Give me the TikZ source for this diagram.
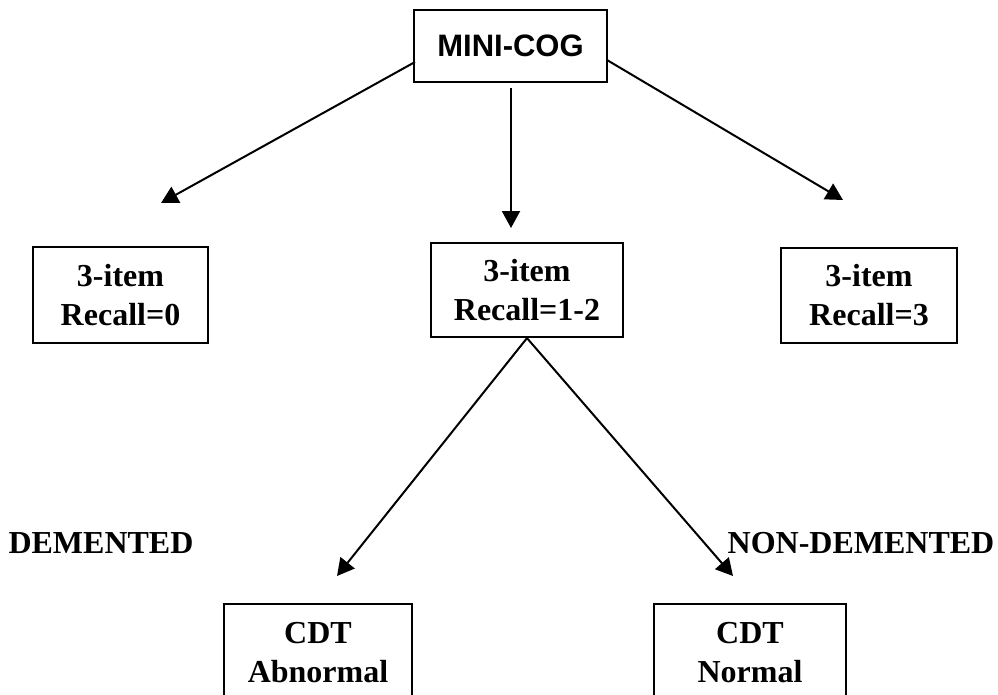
\documentclass[tikz,border=0pt]{standalone}
\usepackage{fontspec}
\setmainfont{Liberation Serif}
\newfontfamily\arialfont{Liberation Sans}
\usetikzlibrary{arrows.meta}
\tikzset{
  box/.style={draw, line width=2.2pt, rectangle, inner sep=0pt, align=center,
    font=\fontsize{32}{39}\selectfont\bfseries},
  arr/.style={line width=2pt, -{Triangle[length=17pt,width=18pt]}},
  lbl/.style={inner sep=0pt, font=\fontsize{32}{39}\selectfont\bfseries}
}
\begin{document}
\begin{tikzpicture}[x=1pt,y=-1pt]
\useasboundingbox (0,0) rectangle (998,694);
\begin{scope}
\clip (0,0) rectangle (998,694);
\node[box, minimum width=193pt, minimum height=72pt, font=\fontsize{31}{36}\selectfont\bfseries\arialfont] (mc) at (510.5,46) {MINI-COG};
\node[box, minimum width=175pt, minimum height=96pt] (r0) at (120.5,295) {3-item\\Recall=0};
\node[box, minimum width=192pt, minimum height=94pt] (r12) at (527,290) {3-item\\Recall=1-2};
\node[box, minimum width=176pt, minimum height=95pt] (r3) at (869,295.5) {3-item\\Recall=3};
\node[box, minimum width=188pt, minimum height=96pt, anchor=north] (abn) at (318,603) {CDT\\Abnormal};
\node[box, minimum width=192pt, minimum height=96pt, anchor=north] (nor) at (750,603) {CDT\\Normal};
\end{scope}
\node[lbl] (dem) at (101,543) {DEMENTED};
\node[lbl] (ndem) at (861,543) {NON-DEMENTED};
\coordinate (sl) at (415,62);
\coordinate (tl) at (161,203);
\coordinate (sr) at (607,60);
\coordinate (tr) at (843,200);
\coordinate (sm) at (511,88);
\coordinate (tm) at (511,228);
\coordinate (ta) at (337,576);
\coordinate (tn) at (733,576);
\draw[arr] (sl) -- (tl);
\draw[arr] (sr) -- (tr);
\draw[arr] (sm) -- (tm);
\draw[arr] (r12.south) -- (ta);
\draw[arr] (r12.south) -- (tn);
\end{tikzpicture}
\end{document}
